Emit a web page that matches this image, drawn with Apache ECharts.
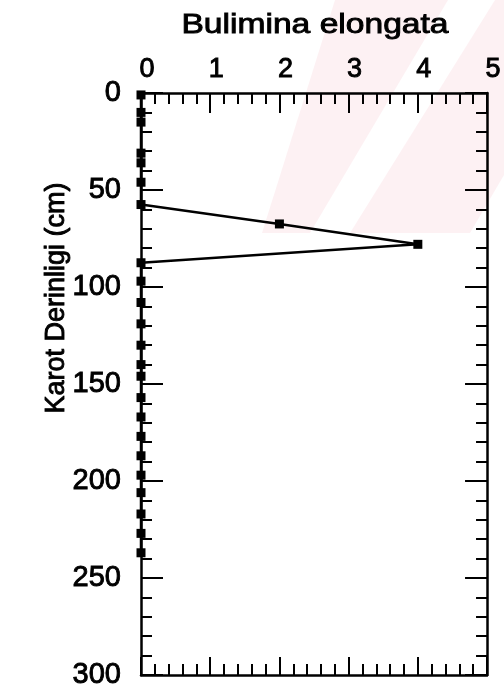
<!DOCTYPE html>
<html>
<head>
<meta charset="utf-8">
<script src="https://cdn.jsdelivr.net/npm/echarts@6/dist/echarts.min.js"></script>
<style>
  html, body { margin: 0; padding: 0; background: #fff; }
  #chart { width: 504px; height: 696px; }
</style>
</head>
<body>
<div id="chart"></div>
<script>
// Core depth (cm) of each counted sample
const depths = [1, 10, 15, 31, 36, 46, 57.5, 67.5, 78, 87.5, 97, 108, 119, 130, 140, 146, 157, 167, 177, 187, 197, 206, 217, 227, 237];
// Bulimina elongata count at each depth
const counts = [0, 0, 0, 0, 0, 0, 0, 2, 4, 0, 0, 0, 0, 0, 0, 0, 0, 0, 0, 0, 0, 0, 0, 0, 0];

const countTicks = [0, 1, 2, 3, 4, 5];
const depthTicks = [0, 50, 100, 150, 200, 250, 300];

const titleText = 'Bulimina elongata';
const depthLabel = 'Karot Derinligi (cm)';

const FONT = '"Liberation Sans", Arial, sans-serif';
const INK = '#000';

const points = depths.map((d, i) => [counts[i], d]);

const chart = echarts.init(document.getElementById('chart'), null, { renderer: 'canvas' });

function countAxis(pos, showLabels) {
  return {
    type: 'value',
    position: pos,
    min: countTicks[0],
    max: countTicks[countTicks.length - 1],
    interval: 1,
    axisLine: { show: true, onZero: false, lineStyle: { color: INK, width: 2.5 } },
    axisTick: { show: true, inside: true, length: pos === 'top' ? 20 : 18, lineStyle: { color: INK, width: 2 } },
    minorTick: { show: true, splitNumber: 5, length: 11, lineStyle: { color: INK, width: 2 } },
    splitLine: { show: false },
    axisLabel: {
      show: showLabels,
      margin: 10,
      fontFamily: FONT,
      fontSize: 27,
      color: INK,
      textBorderColor: INK,
      textBorderWidth: 0.9,
      padding: [0, 0, 0, 12]
    }
  };
}

function depthAxis(pos, showLabels) {
  return {
    type: 'value',
    position: pos,
    inverse: true,
    min: depthTicks[0],
    max: depthTicks[depthTicks.length - 1],
    interval: 50,
    axisLine: { show: true, onZero: false, lineStyle: { color: INK, width: 2.5 } },
    axisTick: { show: true, inside: true, length: 22, lineStyle: { color: INK, width: 2 } },
    minorTick: { show: true, splitNumber: 5, length: 11, lineStyle: { color: INK, width: 2 } },
    splitLine: { show: false },
    axisLabel: {
      show: showLabels,
      margin: 20,
      fontFamily: FONT,
      fontSize: 29,
      color: INK,
      textBorderColor: INK,
      textBorderWidth: 0.9
    }
  };
}

const option = {
  animation: false,
  backgroundColor: '#fff',
  grid: { left: 141, right: 16, top: 93, bottom: 21, containLabel: false },
  xAxis: [countAxis('top', true), countAxis('bottom', false)],
  yAxis: [depthAxis('left', true), depthAxis('right', false)],
  graphic: [
    // faint diagonal watermark bands
    {
      type: 'polygon', z: -10, silent: true,
      shape: { points: [[262, 233], [310, 233], [448, 0], [335, 0]] },
      style: { fill: 'rgba(240,140,155,0.12)' }
    },
    {
      type: 'polygon', z: -10, silent: true,
      shape: { points: [[350, 233], [470, 233], [504, 175], [504, 0], [495, 0]] },
      style: { fill: 'rgba(240,140,155,0.12)' }
    },
    {
      type: 'text', z: 10,
      x: 315, y: 25, scaleX: 1.2,
      style: {
        text: titleText,
        font: '28px ' + FONT,
        fill: INK,
        stroke: INK,
        lineWidth: 0.9,
        textAlign: 'center',
        textVerticalAlign: 'middle'
      }
    },
    {
      type: 'text', z: 10,
      x: 57, y: 298, rotation: Math.PI / 2,
      style: {
        text: depthLabel,
        font: '27px ' + FONT,
        fill: INK,
        stroke: INK,
        lineWidth: 0.9,
        textAlign: 'center',
        textVerticalAlign: 'middle'
      }
    }
  ],
  series: [
    {
      type: 'line',
      xAxisIndex: 0,
      yAxisIndex: 0,
      data: points,
      symbol: 'rect',
      symbolSize: 9,
      showSymbol: true,
      clip: false,
      lineStyle: { color: INK, width: 2.5 },
      itemStyle: { color: INK }
    }
  ]
};

chart.setOption(option);
</script>
</body>
</html>
